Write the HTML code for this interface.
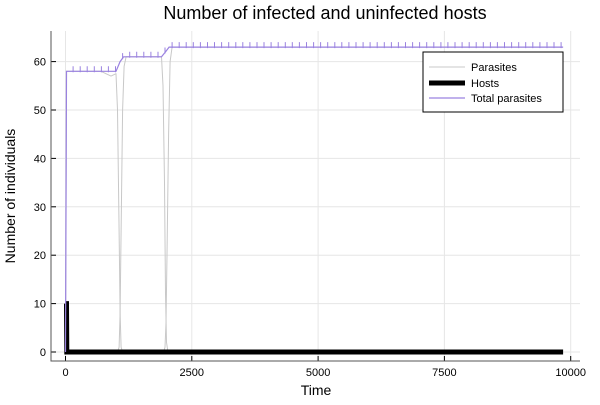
<!DOCTYPE html>
<html><head><meta charset="utf-8"><style>
body{margin:0;background:#fff;}
svg text{font-family:"Liberation Sans",sans-serif;}
</style></head><body>
<svg id="c" width="600" height="400" xmlns="http://www.w3.org/2000/svg">
<rect width="600" height="400" fill="#fff"/>
<text x="325" y="19" font-size="18" text-anchor="middle">Number of infected and uninfected hosts</text>
<g id="grid"></g>
<g id="series"></g>
<g id="axes"></g>
<text x="316" y="395" font-size="14" text-anchor="middle">Time</text>
<text x="15" y="196" font-size="14" text-anchor="middle" transform="rotate(-90 15 196)">Number of individuals</text>
<g>
<rect x="423" y="52" width="140" height="60" fill="#fff" stroke="#000" stroke-width="1"/>
<line x1="429" y1="67" x2="465" y2="67" stroke="#c8c8c8" stroke-width="1"/>
<text x="471" y="71" font-size="11">Parasites</text>
<line x1="429" y1="83" x2="465" y2="83" stroke="#000" stroke-width="5"/>
<text x="471" y="87" font-size="11">Hosts</text>
<line x1="429" y1="98" x2="465" y2="98" stroke="#9a82e0" stroke-width="1.2"/>
<text x="471" y="102" font-size="11">Total parasites</text>
</g>
</svg>
<script>
const xTicks=[0,2500,5000,7500,10000];
const yTicks=[0,10,20,30,40,50,60];
const totalT=[0,20,1000,1080,1150,1900,1980,2050,9850];
const totalV=[0,58,58,60,61,61,62,63,63];
const hostT=[0,20,25,9850];
const hostV=[10,10,0,0];
const para1T=[0,20,700,900,1000,1030,1060,1080,1100,1120,1140,1170,1220,9850];
const para1V=[0,58,58,57,57.5,50,25,8,1,0.3,0.1,0,0,0];
const para2T=[0,1000,1040,1060,1080,1100,1130,1160,1200,1900,1930,1960,1980,2000,2020,2050,2100,9850];
const para2V=[0,0,0.3,1,8,25,50,59,61,61,55,35,12,2,0.5,0.1,0,0];
const para3T=[0,1900,1950,1970,1990,2010,2040,2070,2110,9850];
const para3V=[0,0,0.3,1,6,20,45,60,63,63];
const X=t=>65.5+t*126.3/2500, Y=v=>352-v*4.84;
const NS="http://www.w3.org/2000/svg";
function mk(tag,attrs,parent){const e=document.createElementNS(NS,tag);for(const k in attrs)e.setAttribute(k,attrs[k]);document.getElementById(parent).appendChild(e);return e;}
xTicks.forEach(t=>{
 const g=mk('line',{x1:X(t),x2:X(t),y1:31,y2:361,stroke:'#e6e6e6'},'grid');
 
 
 const tk=mk('line',{x1:X(t),x2:X(t),y1:361,y2:356,stroke:'#000'},'axes');
 
 
 const l=mk('text',{x:X(t),y:376,'font-size':11,'text-anchor':'middle'},'axes');l.textContent=t;
 
 
});
yTicks.forEach(v=>{
 const g=mk('line',{x1:51,x2:580,y1:Y(v),y2:Y(v),stroke:'#e6e6e6'},'grid');
 
 
 const tk=mk('line',{x1:51,x2:56,y1:Y(v),y2:Y(v),stroke:'#000'},'axes');
 
 
 const l=mk('text',{x:46,y:Y(v)+4,'font-size':11,'text-anchor':'end'},'axes');l.textContent=v;
 
 
});
const ax=mk('path',{d:'M51,31V361H580',fill:'none',stroke:'#555','stroke-width':1},'axes');


function pts(T,V){return T.map((t,i)=>X(t).toFixed(1)+','+Y(V[i]).toFixed(1)).join(' ');}
[[para1T,para1V],[para2T,para2V],[para3T,para3V]].forEach(([T,V])=>{
 const p=mk('polyline',{points:pts(T,V),fill:'none',stroke:'#c8c8c8','stroke-width':1,'stroke-linejoin':'round'},'series');
 
 
});
const h=mk('polyline',{points:pts(hostT,hostV),fill:'none',stroke:'#000','stroke-width':5},'series');


const tp=mk('polyline',{points:pts(totalT,totalV),fill:'none',stroke:'#9a82e0','stroke-width':1.2},'series');


function interp(t){for(let i=1;i<totalT.length;i++){if(t<=totalT[i]){const f=(t-totalT[i-1])/(totalT[i]-totalT[i-1]);return totalV[i-1]+f*(totalV[i]-totalV[i-1]);}}return totalV[totalV.length-1];}
let d='';
for(let t=150;t<=9850;t+=140){const y=Y(interp(t));d+=`M${X(t).toFixed(1)},${(y-5).toFixed(1)}V${(y+1).toFixed(1)}`;}
const m=mk('path',{d:d,stroke:'#9a82e0','stroke-width':1,fill:'none'},'series');


</script>
</body></html>
